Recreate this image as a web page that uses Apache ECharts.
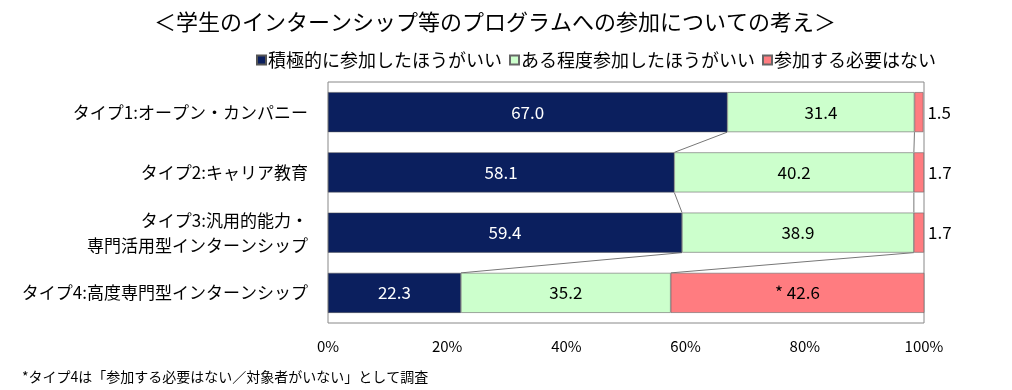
<!DOCTYPE html>
<html><head><meta charset="utf-8">
<script src="https://cdn.jsdelivr.net/npm/echarts@6/dist/echarts.min.js"></script>
<style>html,body{margin:0;padding:0;background:#fff}#c{width:1012px;height:390px}</style>
</head><body><div id="c"></div>
<script>
const categories = ['タイプ1:オープン・カンパニー','タイプ2:キャリア教育','タイプ3:汎用的能力・\n専門活用型インターンシップ','タイプ4:高度専門型インターンシップ'];
const seriesNames = ['積極的に参加したほうがいい','ある程度参加したほうがいい','参加する必要はない'];
const positive = [67.0, 58.1, 59.4, 22.3];
const moderate = [31.4, 40.2, 38.9, 35.2];
const notNeeded = [1.5, 1.7, 1.7, 42.6];
const notNeededPrefix = ['', '', '', '* '];
const xTicks = [0, 20, 40, 60, 80, 100];
const titleText = '＜学生のインターンシップ等のプログラムへの参加についての考え＞';
const footnote = '*タイプ4は「参加する必要はない／対象者がいない」として調査';

const FONT = '"Noto Sans CJK JP", sans-serif';
const colors = ['#0b1f5e', '#ccffcc', '#ff7c80'];

// connector data: [categoryIndex, end value in this bar, end value in next bar]
const cum1 = positive;
const cum2 = positive.map((v, i) => v + moderate[i]);
const connectors = [];
for (let i = 0; i < categories.length - 1; i++) {
  connectors.push([i, cum1[i], cum1[i + 1]]);
  connectors.push([i, cum2[i], cum2[i + 1]]);
}

const chart = echarts.init(document.getElementById('c'));
const barW = 40;
chart.setOption({
  animation: false,
  textStyle: { fontFamily: FONT },
  title: { text: titleText, left: 490, top: 6, textAlign: 'center',
    textStyle: { fontFamily: FONT, fontSize: 22, fontWeight: 'normal', color: '#000' } },
  legend: { left: 251, top: 46, itemWidth: 9, itemHeight: 9, itemGap: 7, icon: 'rect',
    textStyle: { fontFamily: FONT, fontSize: 18, color: '#000', padding: [0, 0, 0, -3] },
    data: seriesNames },
  graphic: [{ type: 'text', left: 22, top: 370,
    style: { text: footnote, font: '14px ' + FONT, fill: '#000' } }],
  grid: { left: 328, right: 88, top: 82, bottom: 67, show: true, borderColor: '#888', borderWidth: 1 },
  xAxis: { type: 'value', min: 0, max: 100, interval: 20,
    axisLine: { show: false }, axisTick: { show: false }, splitLine: { show: false },
    axisLabel: { formatter: v => xTicks.includes(v) ? v + '%' : '', fontSize: 15, color: '#000', margin: 16, fontFamily: FONT } },
  yAxis: { type: 'category', inverse: true, data: categories,
    axisLine: { show: false }, axisTick: { show: false },
    axisLabel: { fontSize: 17, color: '#000', margin: 20, align: 'right', lineHeight: 25, fontFamily: FONT } },
  series: [
    { name: seriesNames[0], type: 'bar', stack: 's', barWidth: barW, data: positive,
      itemStyle: { color: colors[0], borderColor: '#555', borderWidth: 0.5 },
      label: { show: true, position: 'inside', color: '#fff', fontSize: 17, fontFamily: FONT, formatter: p => p.value.toFixed(1) } },
    { name: seriesNames[1], type: 'bar', stack: 's', barWidth: barW, data: moderate,
      itemStyle: { color: colors[1], borderColor: '#666', borderWidth: 0.6 },
      label: { show: true, position: 'inside', color: '#000', fontSize: 17, fontFamily: FONT, formatter: p => p.value.toFixed(1) } },
    { name: seriesNames[2], type: 'bar', stack: 's', barWidth: barW,
      data: notNeeded.map((v, i) => ({ value: v,
        label: v < 5 ? { position: 'right', distance: 4 } : { position: 'inside' } })),
      itemStyle: { color: colors[2], borderColor: '#666', borderWidth: 0.6 },
      label: { show: true, color: '#000', fontSize: 17, fontFamily: FONT,
        formatter: p => notNeededPrefix[p.dataIndex] + p.value.toFixed(1) } },
    { type: 'custom', silent: true, encode: { x: [1, 2], y: 0 }, data: connectors, z: 1,
      renderItem: (params, api) => {
        const i = api.value(0);
        const a = api.coord([api.value(1), i]);
        const b = api.coord([api.value(2), i + 1]);
        const h = barW / 2;
        return { type: 'line', shape: { x1: a[0], y1: a[1] + h, x2: b[0], y2: b[1] - h },
          style: { stroke: '#777', lineWidth: 1 } };
      } }
  ]
});
</script></body></html>
